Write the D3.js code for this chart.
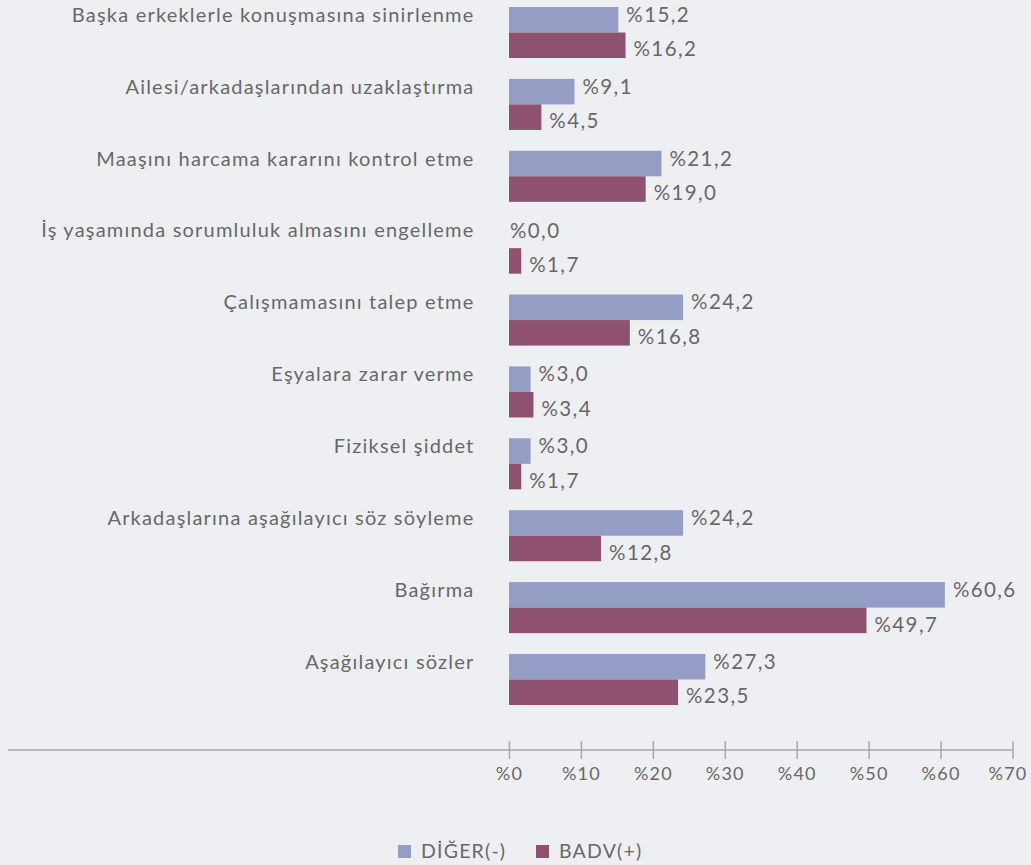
<!DOCTYPE html>
<html><head><meta charset="utf-8">
<script src="https://cdn.jsdelivr.net/npm/d3@7"></script>
<style>
html,body{margin:0;padding:0;background:#EEEFF3;}
svg{display:block;font-family:Lato, "Noto Sans", sans-serif;}
</style></head>
<body><div id="chart"></div>
<script>
const categories = [
  "Başka erkeklerle konuşmasına sinirlenme",
  "Ailesi/arkadaşlarından uzaklaştırma",
  "Maaşını harcama kararını kontrol etme",
  "İş yaşamında sorumluluk almasını engelleme",
  "Çalışmamasını talep etme",
  "Eşyalara zarar verme",
  "Fiziksel şiddet ",
  "Arkadaşlarına aşağılayıcı söz söyleme",
  "Bağırma",
  "Aşağılayıcı sözler"
];
const seriesNames = ["DİĞER(-)", "BADV(+)"];
const diger = [15.2, 9.1, 21.2, 0.0, 24.2, 3.0, 3.0, 24.2, 60.6, 27.3];
const badv  = [16.2, 4.5, 19.0, 1.7, 16.8, 3.4, 1.7, 12.8, 49.7, 23.5];
const tickValues = [0, 10, 20, 30, 40, 50, 60, 70];
const colors = ["#959DC4", "#8E5170"];

const W = 1031, H = 865;
const svg = d3.select("#chart").append("svg").attr("width", W).attr("height", H);
svg.append("rect").attr("width", W).attr("height", H).attr("fill", "#EEEFF3");

const x = d3.scaleLinear().domain([0, 70]).range([509, 1012.5]);
const y = d3.scaleBand().domain(categories).range([7, 705]).paddingInner(0.29).paddingOuter(0);
const ySub = d3.scaleBand().domain(seriesNames).range([0, y.bandwidth()]);

const fmt = v => "%" + d3.format(".1f")(v).replace(".", ",");
const seriesVals = [diger, badv];
const txt = "#686868";

const g = svg.append("g");
categories.forEach((c, i) => {
  const gy = y(c);
  seriesNames.forEach((s, j) => {
    const v = seriesVals[j][i];
    const by = gy + ySub(s);
    g.append("rect")
      .attr("x", x(0)).attr("y", by)
      .attr("width", x(v) - x(0)).attr("height", ySub.bandwidth())
      .attr("fill", colors[j]);
    g.append("text")
      .attr("x", v === 0 ? x(v) + 1 : x(v) + 8)
      .attr("y", by + ySub.bandwidth() / 2 + (j === 0 ? -5 : 4))
      .attr("dy", "0.35em")
      .attr("font-size", 20.5)
      .attr("letter-spacing", 1.4)
      .attr("fill", txt)
      .text(fmt(v));
  });
  g.append("text")
    .attr("x", 474.5)
    .attr("y", gy + ySub.bandwidth() / 2 - 5)
    .attr("dy", "0.35em")
    .attr("text-anchor", "end")
    .attr("font-size", 20)
    .attr("letter-spacing", 1.2)
    .attr("fill", txt)
    .text(c);
});

// axis
svg.append("line").attr("x1", 8).attr("x2", x(70)).attr("y1", 750).attr("y2", 750)
  .attr("stroke", "#A8A8A8").attr("stroke-width", 1.5);
const axis = d3.axisBottom(x).tickValues(tickValues).tickSize(18).tickPadding(8)
  .tickFormat(d => "%" + d);
const ag = svg.append("g").attr("transform", "translate(0,741)").call(axis);
ag.select(".domain").remove();
ag.selectAll(".tick line").attr("stroke", "#A8A8A8").attr("stroke-width", 1.5);
ag.selectAll(".tick text").attr("fill", txt).attr("font-size", 18)
  .attr("letter-spacing", 1.2)
  .attr("font-family", "Lato, 'Noto Sans', sans-serif")
  .attr("dx", d => d === 70 ? -5 : 0);

// legend
const legend = svg.append("g");
const legX = [398, 536];
seriesNames.forEach((s, j) => {
  legend.append("rect").attr("x", legX[j]).attr("y", 845).attr("width", 13).attr("height", 13)
    .attr("fill", colors[j]);
  legend.append("text").attr("x", legX[j] + 23).attr("y", 851.5).attr("dy", "0.35em")
    .attr("font-size", 19.5).attr("letter-spacing", 1.2).attr("fill", txt).text(s);
});
</script></body></html>
